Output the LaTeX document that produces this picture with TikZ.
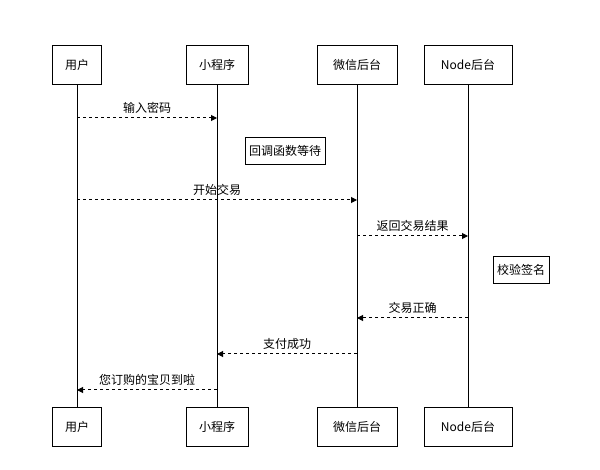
\documentclass[tikz,border=0pt]{standalone}
\usepackage{fontspec}
\setmainfont{Noto Sans CJK SC}
\usetikzlibrary{arrows.meta}
\begin{document}
\begin{tikzpicture}[x=1pt,y=-1pt,
  part/.style={draw,line width=1pt,minimum height=39pt,inner xsep=6pt,font=\fontsize{12}{14}\selectfont},
  note/.style={draw,line width=0.8pt,minimum height=27pt,inner xsep=4pt,font=\fontsize{12}{14}\selectfont},
  life/.style={line width=1pt},
  msg/.style={dashed,line width=1pt,-{Triangle[length=6pt,width=6pt]}},
  lbl/.style={above=1pt,font=\fontsize{12}{14}\selectfont}]
\useasboundingbox (0,0) rectangle (600,470);
\foreach \n/\x/\t/\w in {a/77/用户/49, b/217/小程序/62, c/357/微信后台/80, d/468/Node后台/88}{
  \node[part,minimum width=\w pt] (\n t) at (\x,65) {\t};
  \node[part,minimum width=\w pt] (\n b) at (\x,427) {\t};
  \draw[life] (\n t.south) -- (\n b.north);
}
\node[note] (n1) at (285,151) {回调函数等待};
\node[note] (n2) at (521,270) {校验签名};
\foreach \s/\d/\y/\t in {a/b/118/输入密码, a/c/200/开始交易, c/d/236/返回交易结果, d/c/318/交易正确, c/b/354/支付成功, b/a/390/您订购的宝贝到啦}{
  \coordinate (s) at (\s t|-0,\y); \coordinate (e) at (\d t|-0,\y);
  \draw[msg] (s) -- (e) node[lbl,midway] {\t};
}
\end{tikzpicture}
\end{document}
